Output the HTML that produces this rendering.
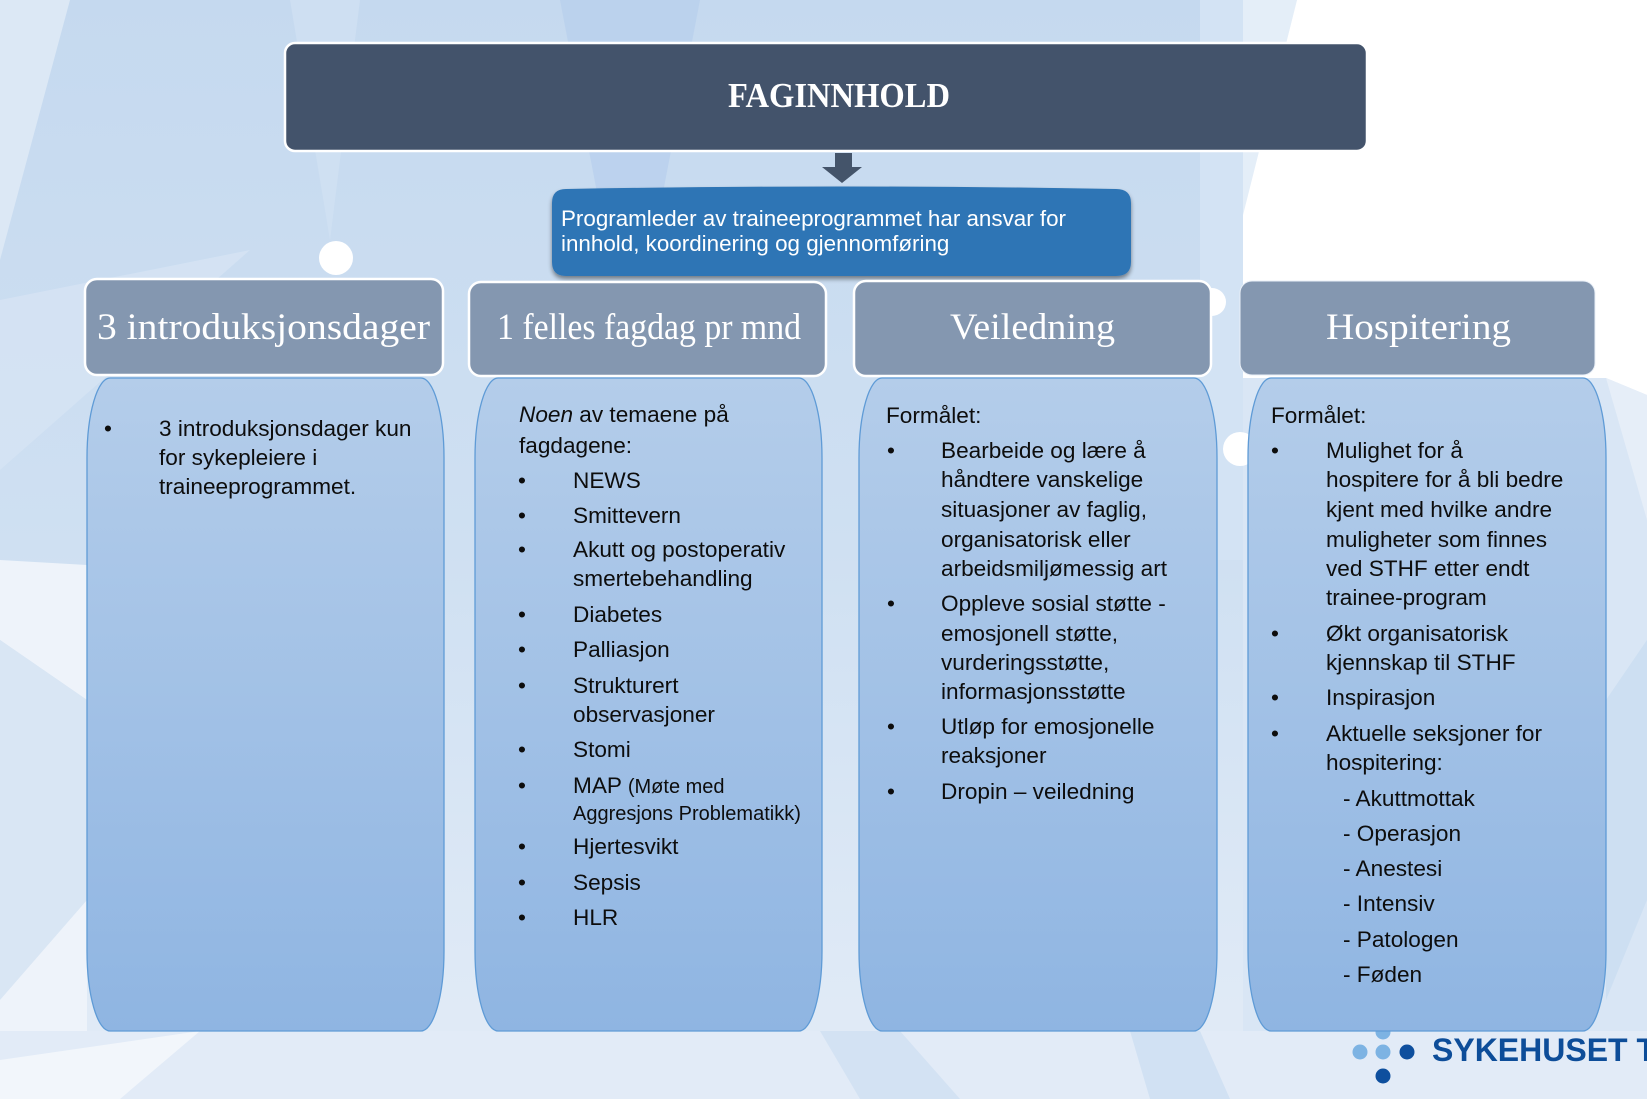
<!DOCTYPE html>
<html>
<head>
<meta charset="utf-8">
<style>
  html,body{margin:0;padding:0;background:#fff;}
  svg{display:block;}
  .b{font-family:"Liberation Sans",Arial,sans-serif;font-size:22.6px;fill:#0d0d0d;}
  .h{font-family:"Liberation Serif","Times New Roman",serif;font-size:37px;fill:#fff;}
</style>
</head>
<body>
<svg width="1647" height="1099" viewBox="0 0 1647 1099" xmlns="http://www.w3.org/2000/svg">
  <defs>
    <linearGradient id="bg" x1="0" y1="0" x2="0" y2="1">
      <stop offset="0" stop-color="#c5d9ef"/>
      <stop offset="0.5" stop-color="#cfe0f2"/>
      <stop offset="1" stop-color="#e3ecf7"/>
    </linearGradient>
    <linearGradient id="body" x1="0" y1="0" x2="0" y2="1">
      <stop offset="0" stop-color="#b4cdea"/>
      <stop offset="1" stop-color="#8fb5e2"/>
    </linearGradient>
    <filter id="sh" x="-5%" y="-10%" width="110%" height="130%">
      <feGaussianBlur in="SourceAlpha" stdDeviation="2.5"/>
      <feOffset dx="0" dy="3" result="o"/>
      <feComponentTransfer><feFuncA type="linear" slope="0.45"/></feComponentTransfer>
      <feMerge><feMergeNode/><feMergeNode in="SourceGraphic"/></feMerge>
    </filter>
  </defs>

  <!-- background -->
  <rect width="1647" height="1099" fill="url(#bg)"/>
  <polygon points="0,0 70,0 0,260" fill="#dce8f5"/>
  <polygon points="0,300 250,250 0,470" fill="#d6e4f4" opacity="0.8"/>
  <polygon points="560,0 700,0 650,260 610,260" fill="#b7cfec" opacity="0.7"/>
  <polygon points="290,0 360,0 330,240" fill="#d3e3f4" opacity="0.6"/>
  <polygon points="0,560 87,565 87,700 0,640" fill="#eef3fa"/>
  <polygon points="0,640 87,700 87,900 0,1000" fill="#d9e6f4"/>
  <polygon points="0,1000 87,900 87,1031 40,1099 0,1099" fill="#eef3fa"/>
  <polygon points="0,1031 1647,1031 1647,1099 0,1099" fill="#e2ebf7"/>
  <polygon points="0,1060 200,1031 120,1099 0,1099" fill="#f2f6fb"/>
  <polygon points="820,1031 900,1031 960,1099 860,1099" fill="#d3e2f3"/>
  <polygon points="1130,1031 1200,1031 1230,1099 1150,1099" fill="#d1e1f3"/>
  <!-- right side light -->
  <polygon points="1243,0 1647,0 1647,1031 1243,1031" fill="#d9e6f5"/>
  <polygon points="1200,0 1243,0 1243,560 1200,560" fill="#d3e3f4"/>
  <polygon points="1243,0 1297,0 1243,215" fill="#e4eef8"/>
  <polygon points="1297,0 1647,0 1647,395 1606,378 1243,378 1243,215" fill="#ffffff"/>
  <polygon points="1606,378 1647,395 1647,520" fill="#e6eef8"/>
  <polygon points="1606,700 1647,640 1647,900 1606,1000" fill="#cddff2"/>

  <!-- white circles -->
  <circle cx="336" cy="258" r="17" fill="#ffffff"/>
  <circle cx="1240" cy="449" r="17" fill="#ffffff"/>
  <circle cx="1212" cy="302" r="14" fill="#ffffff"/>

  <!-- FAGINNHOLD -->
  <rect x="285" y="43" width="1082" height="108" rx="10" ry="10" fill="#43536b" stroke="#ffffff" stroke-width="2.5"/>
  <text x="839" y="107" text-anchor="middle" font-family="'Liberation Serif','Times New Roman',serif" font-weight="bold" font-size="35" fill="#ffffff" textLength="222" lengthAdjust="spacingAndGlyphs">FAGINNHOLD</text>

  <!-- arrow -->
  <polygon points="835,153 852,153 852,167 862,167 842,183 822,167 835,167" fill="#44546a"/>

  <!-- blue box -->
  <path d="M566,189 Q841,184 1116,189 Q1131,189 1131,203 L1131,262 Q1131,276 1116,276 L566,276 Q552,276 552,262 L552,203 Q552,189 566,189 Z" fill="#2e74b5" filter="url(#sh)"/>
  <text x="561" y="226" font-family="'Liberation Sans',Arial,sans-serif" font-size="22.4" fill="#ffffff" textLength="505" lengthAdjust="spacingAndGlyphs">Programleder av traineeprogrammet har ansvar for</text>
  <text x="561" y="251" font-family="'Liberation Sans',Arial,sans-serif" font-size="22.4" fill="#ffffff">innhold, koordinering og gjennomføring</text>

  <!-- header boxes -->
  <rect x="85" y="279" width="358" height="96" rx="12" fill="#8497b0" stroke="#ffffff" stroke-width="2.5"/>
  <rect x="469" y="282" width="357" height="94" rx="12" fill="#8497b0" stroke="#ffffff" stroke-width="2.5"/>
  <rect x="854" y="281" width="357" height="95" rx="12" fill="#8497b0" stroke="#ffffff" stroke-width="2.5"/>
  <rect x="1240" y="281" width="355" height="94" rx="12" fill="#8497b0" stroke="#e9eff7" stroke-width="1"/>
  <text class="h" x="263.5" y="339" text-anchor="middle" textLength="333" lengthAdjust="spacingAndGlyphs">3 introduksjonsdager</text>
  <text class="h" x="649" y="339" text-anchor="middle" textLength="304" lengthAdjust="spacingAndGlyphs">1 felles fagdag pr mnd</text>
  <text class="h" x="1032.5" y="339" text-anchor="middle" textLength="165" lengthAdjust="spacingAndGlyphs">Veiledning</text>
  <text class="h" x="1418.5" y="339" text-anchor="middle" textLength="185" lengthAdjust="spacingAndGlyphs">Hospitering</text>

  <!-- logo (behind box 4 partially) -->
  <circle cx="1383" cy="1032" r="7.5" fill="#7db3e3"/>
  <circle cx="1360" cy="1052" r="7.5" fill="#7db3e3"/>
  <circle cx="1383" cy="1052" r="7.5" fill="#7db3e3"/>
  <circle cx="1407" cy="1052" r="7.5" fill="#0e4f9e"/>
  <circle cx="1383" cy="1076" r="7.5" fill="#0e4f9e"/>
  <text x="1432" y="1061" font-family="'Liberation Sans',Arial,sans-serif" font-weight="bold" font-size="32" fill="#0d4d99">SYKEHUSET TELEMARK</text>

  <!-- body boxes -->
  <path d="M110,378 H421 A23 80 0 0 1 444,458 V951 A23 80 0 0 1 421,1031 H110 A23 80 0 0 1 87,951 V458 A23 80 0 0 1 110,378 Z" fill="url(#body)" stroke="#5f9bd6" stroke-width="1.3"/>
  <path d="M498,378 H799 A23 80 0 0 1 822,458 V951 A23 80 0 0 1 799,1031 H498 A23 80 0 0 1 475,951 V458 A23 80 0 0 1 498,378 Z" fill="url(#body)" stroke="#5f9bd6" stroke-width="1.3"/>
  <path d="M882,378 H1194 A23 80 0 0 1 1217,458 V951 A23 80 0 0 1 1194,1031 H882 A23 80 0 0 1 859,951 V458 A23 80 0 0 1 882,378 Z" fill="url(#body)" stroke="#5f9bd6" stroke-width="1.3"/>
  <path d="M1271,378 H1583 A23 80 0 0 1 1606,458 V951 A23 80 0 0 1 1583,1031 H1271 A23 80 0 0 1 1248,951 V458 A23 80 0 0 1 1271,378 Z" fill="url(#body)" stroke="#5f9bd6" stroke-width="1.3"/>

  <!-- column 1 -->
  <g class="b">
    <text x="104" y="436">•</text>
    <text x="159" y="436">3 introduksjonsdager kun</text>
    <text x="159" y="465">for sykepleiere i</text>
    <text x="159" y="494">traineeprogrammet.</text>
  </g>

  <!-- column 2 -->
  <g class="b">
    <text x="519" y="422"><tspan font-style="italic">Noen</tspan> av temaene på</text>
    <text x="519" y="453">fagdagene:</text>
    <text x="518" y="488">•</text><text x="573" y="488">NEWS</text>
    <text x="518" y="523">•</text><text x="573" y="523">Smittevern</text>
    <text x="518" y="557">•</text><text x="573" y="557">Akutt og postoperativ</text>
    <text x="573" y="586">smertebehandling</text>
    <text x="518" y="622">•</text><text x="573" y="622">Diabetes</text>
    <text x="518" y="657">•</text><text x="573" y="657">Palliasjon</text>
    <text x="518" y="693">•</text><text x="573" y="693">Strukturert</text>
    <text x="573" y="722">observasjoner</text>
    <text x="518" y="757">•</text><text x="573" y="757">Stomi</text>
    <text x="518" y="793">•</text><text x="573" y="793">MAP <tspan font-size="20">(Møte med</tspan></text>
    <text x="573" y="820" font-size="20">Aggresjons Problematikk)</text>
    <text x="518" y="854">•</text><text x="573" y="854">Hjertesvikt</text>
    <text x="518" y="890">•</text><text x="573" y="890">Sepsis</text>
    <text x="518" y="925">•</text><text x="573" y="925">HLR</text>
  </g>

  <!-- column 3 -->
  <g class="b">
    <text x="886" y="423">Formålet:</text>
    <text x="887" y="458">•</text><text x="941" y="458">Bearbeide og lære å</text>
    <text x="941" y="487">håndtere vanskelige</text>
    <text x="941" y="517">situasjoner av faglig,</text>
    <text x="941" y="547">organisatorisk eller</text>
    <text x="941" y="576">arbeidsmiljømessig art</text>
    <text x="887" y="611">•</text><text x="941" y="611">Oppleve sosial støtte -</text>
    <text x="941" y="641">emosjonell støtte,</text>
    <text x="941" y="670">vurderingsstøtte,</text>
    <text x="941" y="699">informasjonsstøtte</text>
    <text x="887" y="734">•</text><text x="941" y="734">Utløp for emosjonelle</text>
    <text x="941" y="763">reaksjoner</text>
    <text x="887" y="799">•</text><text x="941" y="799">Dropin – veiledning</text>
  </g>

  <!-- column 4 -->
  <g class="b">
    <text x="1271" y="423">Formålet:</text>
    <text x="1271" y="458">•</text><text x="1326" y="458">Mulighet for å</text>
    <text x="1326" y="487">hospitere for å bli bedre</text>
    <text x="1326" y="517">kjent med hvilke andre</text>
    <text x="1326" y="547">muligheter som finnes</text>
    <text x="1326" y="576">ved STHF etter endt</text>
    <text x="1326" y="605">trainee-program</text>
    <text x="1271" y="641">•</text><text x="1326" y="641">Økt organisatorisk</text>
    <text x="1326" y="670">kjennskap til STHF</text>
    <text x="1271" y="705">•</text><text x="1326" y="705">Inspirasjon</text>
    <text x="1271" y="741">•</text><text x="1326" y="741">Aktuelle seksjoner for</text>
    <text x="1326" y="770">hospitering:</text>
    <text x="1343" y="806">- Akuttmottak</text>
    <text x="1343" y="841">- Operasjon</text>
    <text x="1343" y="876">- Anestesi</text>
    <text x="1343" y="911">- Intensiv</text>
    <text x="1343" y="947">- Patologen</text>
    <text x="1343" y="982">- Føden</text>
  </g>
</svg>
</body>
</html>
